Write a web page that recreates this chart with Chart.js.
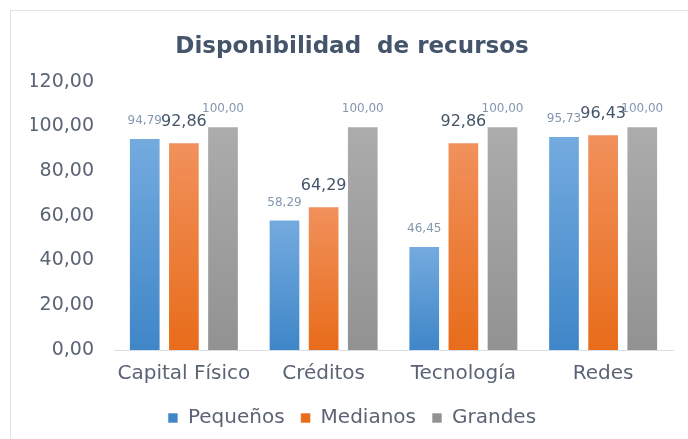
<!DOCTYPE html>
<html>
<head>
<meta charset="utf-8">
<title>Disponibilidad de recursos</title>
<script src="https://cdn.jsdelivr.net/npm/chart.js@4"></script>
<style>
    html, body { margin: 0; padding: 0; background: #fff; overflow: hidden; }
    #frame { position: absolute; left: 10px; top: 10px; width: 720px; height: 460px; border: 1px solid #dde3ea; }
    #wrap { position: absolute; left: 11px; top: 11px; width: 688px; height: 440px; }
</style>
</head>
<body>
<div id="frame"></div>
<div id="wrap"><canvas id="chart"></canvas></div>
<script>
// datos
const categories = ["Capital Físico", "Créditos", "Tecnología", "Redes"];
const seriesNames = ["Pequeños", "Medianos", "Grandes"];
const pequenos = [94.79, 58.29, 46.45, 95.73];
const medianos = [92.86, 64.29, 92.86, 96.43];
const grandes = [100.00, 100.00, 100.00, 100.00];
const yMin = 0;
const yMax = 120;
const yStep = 20;

// 0,00 con coma decimal
const fmt = (v) => v.toFixed(2).replace(".", ",");

// degradado vertical por barra: claro arriba, oscuro abajo
function barGradient(top, mid, bottom) {
    return (context) => {
        const chart = context.chart;
        const y = chart.scales.y;
        if (context.type !== "data" || !y || !context.parsed) return mid;
        const y0 = y.getPixelForValue(context.parsed.y);
        const y1 = y.getPixelForValue(0);
        if (!Number.isFinite(y0) || !Number.isFinite(y1) || y0 === y1) return mid;
        const g = chart.ctx.createLinearGradient(0, y0, 0, y1);
        g.addColorStop(0, top);
        g.addColorStop(1, bottom);
        return g;
    };
}

// etiquetas de valor sobre cada barra
const valueLabels = {
    id: "valueLabels",
    afterDatasetsDraw(chart) {
        const ctx = chart.ctx;
        chart.data.datasets.forEach((ds, i) => {
            const meta = chart.getDatasetMeta(i);
            const st = ds.valueLabel;
            ctx.save();
            ctx.font = st.font;
            ctx.fillStyle = st.color;
            ctx.textAlign = "center";
            ctx.textBaseline = "bottom";
            meta.data.forEach((bar, j) => {
                ctx.fillText(fmt(ds.data[j]), bar.x, bar.y - st.gap);
            });
            ctx.restore();
        });
    }
};

const ctx = document.getElementById("chart").getContext("2d");
new Chart(ctx, {
    type: "bar",
    data: {
        labels: categories,
        datasets: [
            {
                label: seriesNames[0],
                data: pequenos,
                backgroundColor: barGradient("#74abdf", "#4d8fcf", "#3f86c8"),
                borderColor: "rgba(255,255,255,0.6)",
                borderWidth: 1,
                valueLabel: { font: "12px 'DejaVu Sans'", color: "#8497b0", gap: 11 }
            },
            {
                label: seriesNames[1],
                data: medianos,
                backgroundColor: barGradient("#f1915c", "#ec7830", "#e86c1a"),
                borderColor: "rgba(255,255,255,0.6)",
                borderWidth: 1,
                valueLabel: { font: "16px 'DejaVu Sans'", color: "#44546a", gap: 12 }
            },
            {
                label: seriesNames[2],
                data: grandes,
                backgroundColor: barGradient("#acacac", "#9b9b9b", "#929292"),
                borderColor: "rgba(255,255,255,0.6)",
                borderWidth: 1,
                valueLabel: { font: "12px 'DejaVu Sans'", color: "#8497b0", gap: 11 }
            }
        ]
    },
    options: {
        responsive: true,
        maintainAspectRatio: false,
        animation: false,
        layout: { padding: { left: 20, right: 26, top: 0, bottom: 13 } },
        datasets: {
            bar: { categoryPercentage: 0.84, barPercentage: 0.81 }
        },
        plugins: {
            title: {
                display: true,
                text: "Disponibilidad  de recursos",
                color: "#44546a",
                font: { family: "'DejaVu Sans'", size: 23, weight: "bold" },
                padding: { top: 22, bottom: 21 }
            },
            legend: {
                position: "bottom",
                labels: {
                    boxWidth: 10,
                    boxHeight: 10,
                    padding: 16,
                    color: "#5b6474",
                    font: { family: "'DejaVu Sans'", size: 20 }
                }
            },
            tooltip: { enabled: false }
        },
        scales: {
            x: {
                grid: { display: false },
                border: { color: "#d9dfe7", width: 1 },
                ticks: {
                    color: "#5b6474",
                    padding: 4,
                    font: { family: "'DejaVu Sans'", size: 20 }
                },
                afterFit: (s) => { s.height = 42; }
            },
            y: {
                min: yMin,
                max: yMax,
                grid: { display: false, drawTicks: false },
                border: { display: false },
                ticks: {
                    stepSize: yStep,
                    color: "#5b6474",
                    padding: 20,
                    font: { family: "'DejaVu Sans'", size: 19 },
                    callback: (v) => fmt(v)
                },
                afterFit: (s) => { s.width = 83; }
            }
        }
    },
    plugins: [valueLabels]
});
</script>
</body>
</html>
